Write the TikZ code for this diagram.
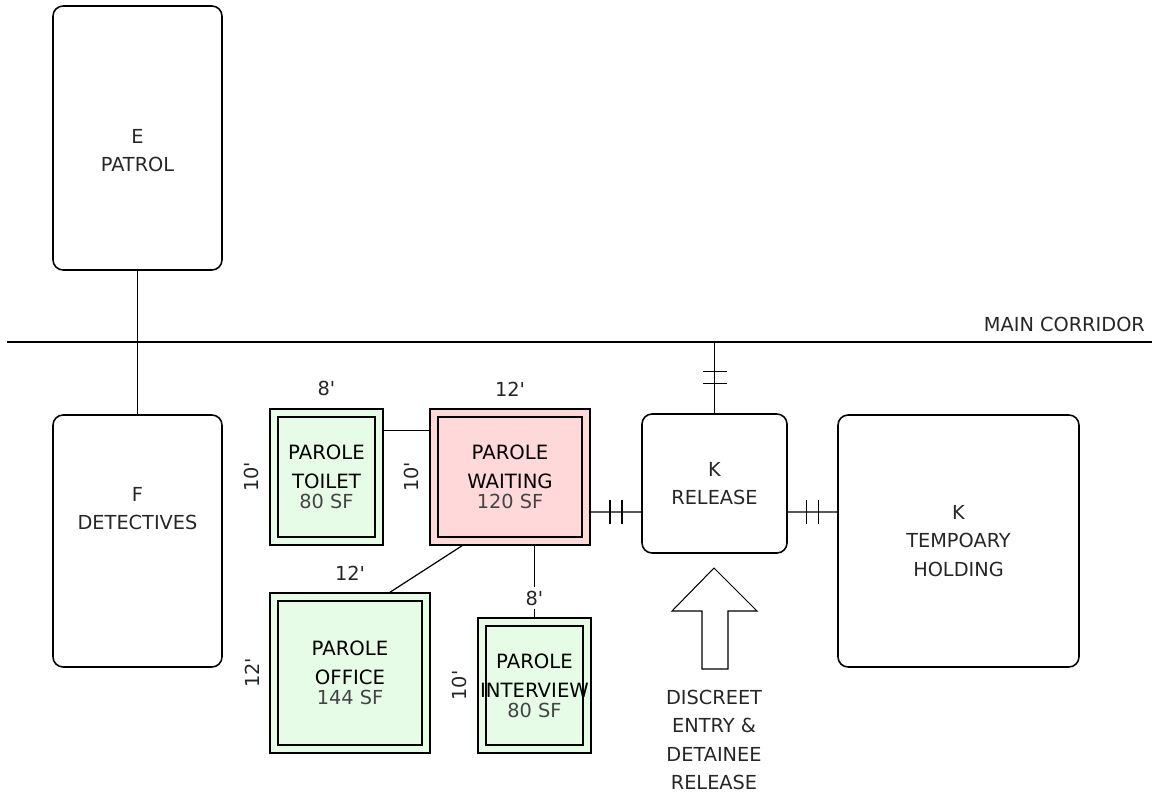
\documentclass[tikz,border=0pt]{standalone}
\usepackage{fontspec}
\setmainfont{DejaVu Sans}[Ligatures=TeXOff]
\usepackage{xcolor}
\usepackage{tikz}
\usetikzlibrary{positioning,calc,decorations.markings}
\definecolor{RoomGreen}{HTML}{E6FCE6}
\definecolor{RoomPink}{HTML}{FFD9D9}
\definecolor{InkGray}{HTML}{262626}
\definecolor{AreaGray}{HTML}{444444}
\tikzset{
  RB/.style={rectangle,rounded corners=0.2cm,draw,line width=0.9pt,
             align=center,text=InkGray,font=\fontsize{11}{16}\selectfont},
  RM/.style={rectangle,draw,line width=0.9pt,inner sep=0pt,align=center,
             font=\fontsize{11.2}{16.5}\selectfont,
             path picture={\draw[line width=0.9pt]
               ($(path picture bounding box.south west)+(0.16cm,0.16cm)$) rectangle
               ($(path picture bounding box.north east)-(0.16cm,0.16cm)$);}},
  rG/.style={RM,fill=RoomGreen},
  rP/.style={RM,fill=RoomPink},
  dimL/.style={inner sep=1pt,text=InkGray,font=\fontsize{11}{13}\selectfont},
  tag/.style={inner sep=1pt,align=center,text=InkGray,font=\fontsize{11}{16}\selectfont},
  wall/.style={line width=0.7pt},
  dtk/.style={wall,postaction={decorate,decoration={markings,
     mark=at position 0.5 with {\draw[wall] (-0.12cm,-0.24cm) -- (-0.12cm,0.24cm)
       (0.12cm,-0.24cm) -- (0.12cm,0.24cm);}}}}
}
\newcommand{\sqft}[1]{{\color{AreaGray}\fontsize{11}{13}\selectfont #1}}

\begin{document}
\begin{tikzpicture}[x=0.02cm,y=-0.02cm]
  \useasboundingbox (0,0) rectangle (1152,798);
  % main corridor
  \coordinate (corrL) at (7,342);
  \coordinate (corrR) at (1152,342);
  \draw[wall] (corrL) -- (corrR);
  \node[tag,above left=0.16cm and 0.1cm of corrR] (corrT) {MAIN CORRIDOR};

  % department blocks
  \node[RB,minimum width=3.38cm,minimum height=5.28cm,
        label={[tag,yshift=-0.26cm]center:E\\PATROL}] (patrol) at (137.5,138) {};
  \node[RB,minimum width=3.38cm,minimum height=5.04cm,
        label={[tag,yshift=0.64cm]center:F\\DETECTIVES}] (det) at (137.5,541) {};
  \node[RB,minimum width=2.9cm,minimum height=2.78cm] (release) at (714.5,483.5) {K\\RELEASE};
  \node[RB,minimum width=4.82cm,minimum height=5.04cm] (hold) at (958.5,541) {K\\TEMPOARY\\HOLDING};

  % parole suite
  \node[rG,minimum width=2.26cm,minimum height=2.72cm] (toilet) at (326.5,477)
    {PAROLE\\TOILET\\[-5pt]\sqft{80 SF}};
  \node[rP,minimum width=3.2cm,minimum height=2.72cm] (waiting) at (510,477)
    {PAROLE\\WAITING\\[-5pt]\sqft{120 SF}};
  \node[rG,minimum width=3.2cm,minimum height=3.2cm] (office) at (350,673)
    {PAROLE\\OFFICE\\[-5pt]\sqft{144 SF}};
  \node[rG,minimum width=2.26cm,minimum height=2.7cm] (interview) at (534.5,685.5)
    {PAROLE\\INTERVIEW\\[-5pt]\sqft{80 SF}};

  % connectors
  \draw[wall] (patrol) -- (det);
  \draw[wall] ($(toilet.north east)+(0,22)$) -- ($(waiting.north west)+(0,22)$);
  \draw[dtk] ($(waiting.east)+(0,35)$) -- ($(release.west)+(0,28.5)$);
  \draw[dtk] ($(release.east)+(0,28.5)$) -- ($(hold.west)+(0,-29)$);
  \draw[dtk] (release.north) -- (release.north |- corrL);
  \draw[wall] ($(waiting.south)+(-48,0)$) -- ($(office.north)+(40,0)$);
  \draw[wall] (interview.north |- waiting.south) -- (interview.north);

  % dimensions
  \node[dimL,above=0.2cm of toilet] (dTw) {8'};
  \node[dimL,rotate=90,anchor=south] (dTh) at ([xshift=-0.16cm]toilet.west) {10'};
  \node[dimL,above=0.2cm of waiting] (dWw) {12'};
  \node[dimL,rotate=90,anchor=south] (dWh) at ([xshift=-0.16cm]waiting.west) {10'};
  \node[dimL,above=0.2cm of office] (dOw) {12'};
  \node[dimL,rotate=90,anchor=south] (dOh) at ([xshift=-0.16cm]office.west) {12'};
  \node[dimL,fill=white,inner sep=2pt,above=0.16cm of interview] (dIw) {8'};
  \node[dimL,rotate=90,anchor=south] (dIh) at ([xshift=-0.16cm]interview.west) {10'};

  % discreet entry
  \draw[line width=0.6pt,fill=white] (714,568) -- (757,611) -- (728,611) -- (728,669)
    -- (702,669) -- (702,611) -- (672,611) -- cycle;
  \node[tag] (entry) at (714,740) {DISCREET\\ENTRY \&\\DETAINEE\\RELEASE};
\end{tikzpicture}
\end{document}
